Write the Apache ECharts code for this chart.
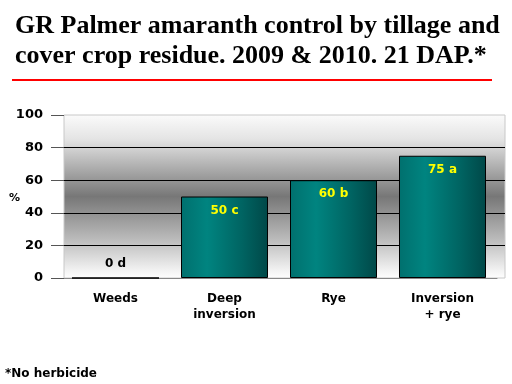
<!DOCTYPE html>
<html><head><meta charset="utf-8">
<script src="https://cdn.jsdelivr.net/npm/echarts@6/dist/echarts.min.js"></script>
<style>html,body{margin:0;padding:0;background:#fff}#c{width:512px;height:384px}</style>
</head><body><div id="c"></div>
<script>
const categories = ['Weeds', 'Deep\ninversion', 'Rye', 'Inversion\n+ rye'];
const values = [0, 50, 60, 75];
const letters = ['d', 'c', 'b', 'a'];
const yTicks = [0, 20, 40, 60, 80, 100];

const chart = echarts.init(document.getElementById('c'));
const barGrad = new echarts.graphic.LinearGradient(0, 0, 1, 0, [
  {offset: 0, color: '#00706e'}, {offset: 0.3, color: '#008480'},
  {offset: 0.7, color: '#006462'}, {offset: 1, color: '#004848'}]);
const wallGrad = new echarts.graphic.LinearGradient(0, 0, 0, 1, [
  {offset: 0, color: '#fbfbfb'}, {offset: 0.15, color: '#e4e4e4'},
  {offset: 0.5, color: '#777777'}, {offset: 0.75, color: '#b8b8b8'},
  {offset: 0.95, color: '#f2f2f2'}, {offset: 1, color: '#ffffff'}]);
const fontFam = 'DejaVu Sans';
chart.setOption({
  animation: false,
  title: [{
    text: 'GR Palmer amaranth control by tillage and\ncover crop residue. 2009 & 2010. 21 DAP.*',
    left: 10, top: 6,
    textStyle: {fontFamily: 'Liberation Serif', fontWeight: 'bold', fontSize: 26, lineHeight: 30, color: '#000'}
  }, {
    text: '*No herbicide', left: 0, top: 363,
    textStyle: {fontFamily: fontFam, fontWeight: 'bold', fontSize: 12, color: '#000'}
  }, {
    text: '%', left: 4, top: 188,
    textStyle: {fontFamily: fontFam, fontWeight: 'bold', fontSize: 11, color: '#000'}
  }],
  graphic: [{type: 'line', shape: {x1: 12, y1: 80, x2: 492, y2: 80}, style: {stroke: '#ff0000', lineWidth: 2}}],
  grid: [
    {left: 64, right: 7, top: 115, bottom: 106, show: true, backgroundColor: wallGrad, borderColor: '#c8c8c8', borderWidth: 1},
    {left: 61, right: 15, top: 115, bottom: 106}
  ],
  xAxis: [
    {type: 'category', gridIndex: 0, data: categories, show: false},
    {type: 'category', gridIndex: 1, data: categories,
     axisLine: {show: true, lineStyle: {color: '#888', width: 1}}, axisTick: {show: false},
     axisLabel: {fontFamily: fontFam, fontWeight: 'bold', fontSize: 12, color: '#000', margin: 13, lineHeight: 16, interval: 0}}
  ],
  yAxis: [
    {type: 'value', gridIndex: 0, min: 0, max: 100, interval: 20,
     axisLine: {show: false}, axisTick: {show: true, length: 13, lineStyle: {color: '#555'}},
     splitLine: {show: true, showMaxLine: false, showMinLine: false, lineStyle: {color: '#000', width: 1}},
     axisLabel: {fontFamily: fontFam, fontWeight: 'bold', fontSize: 13, color: '#000', margin: 21,
       formatter: v => yTicks.includes(v) ? String(v) : ''}},
    {type: 'value', gridIndex: 1, min: 0, max: 100, interval: 20, show: false, splitLine: {show: false}}
  ],
  series: [{
    type: 'bar', xAxisIndex: 1, yAxisIndex: 1, barWidth: 87,
    itemStyle: {color: barGrad, borderColor: '#000', borderWidth: 1},
    label: {show: true, fontFamily: fontFam, fontWeight: 'bold', fontSize: 12,
      position: 'insideTop', distance: 8, color: '#ffff00',
      formatter: p => p.value + ' ' + letters[p.dataIndex]},
    data: values.map((v, i) => v === 0 ? {value: v, label: {position: 'top', color: '#000', distance: 8}} : v)
  }]
});
</script></body></html>
